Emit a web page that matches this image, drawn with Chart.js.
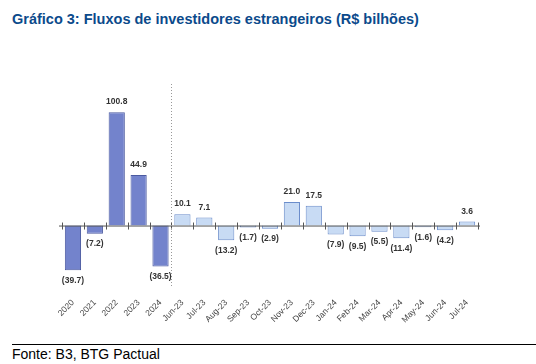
<!DOCTYPE html>
<html>
<head>
<meta charset="utf-8">
<script src="https://cdn.jsdelivr.net/npm/chart.js@4"></script>
<style>
  body { margin: 0; background: #fff; width: 536px; height: 364px; position: relative; overflow: hidden; font-family: "Liberation Sans", Arial, sans-serif; }
  #title { position: absolute; left: 12px; top: 11px; font-size: 14.5px; font-weight: bold; color: #0b4a8b; }
  #chart-box { position: absolute; left: 0; top: 70px; width: 536px; height: 271px; }
  #rule { position: absolute; left: 12px; right: 0; top: 344px; border-top: 1px solid #000; }
  #source { position: absolute; left: 12px; top: 346px; font-size: 14px; color: #000; }
</style>
</head>
<body>
<div id="title">Gráfico 3: Fluxos de investidores estrangeiros (R$ bilhões)</div>
<div id="chart-box"><canvas id="flowChart"></canvas></div>
<div id="rule"></div>
<div id="source">Fonte: B3, BTG Pactual</div>
<script>
const categories = ["2020", "2021", "2022", "2023", "2024", "Jun-23", "Jul-23", "Aug-23", "Sep-23", "Oct-23", "Nov-23", "Dec-23", "Jan-24", "Feb-24", "Mar-24", "Apr-24", "May-24", "Jun-24", "Jul-24"];
const flows = [-39.7, -7.2, 100.8, 44.9, -36.5, 10.1, 7.1, -13.2, -1.7, -2.9, 21.0, 17.5, -7.9, -9.5, -5.5, -11.4, -1.6, -4.2, 3.6];
const yearCount = 5;

const fillColors = flows.map((v, i) => (i < yearCount ? "#7383cc" : "#c8dbf4"));
const borderColors = flows.map((v, i) => (i < yearCount ? "#4b5aa0" : "#6b8dcb"));

function fmt(v) {
  return v < 0 ? "(" + Math.abs(v).toFixed(1) + ")" : v.toFixed(1);
}

// zero line, tick marks, value labels and the dotted separator
const extras = {
  id: "extras",
  afterDatasetsDraw(chart) {
    const ctx = chart.ctx;
    const x = chart.scales.x;
    const y = chart.scales.y;
    const y0 = y.getPixelForValue(0);
    const step = x.getPixelForValue(1) - x.getPixelForValue(0);
    const left = x.getPixelForValue(0) - step / 2;
    const right = x.getPixelForValue(categories.length - 1) + step / 2;

    ctx.save();
    ctx.strokeStyle = "#555";
    ctx.lineWidth = 1;
    ctx.beginPath();
    ctx.moveTo(left - 3, y0 + 0.5);
    ctx.lineTo(right + 2, y0 + 0.5);
    for (let i = 0; i <= categories.length; i++) {
      const px = Math.round(left + i * step) + 0.5;
      ctx.moveTo(px, y0 - 3);
      ctx.lineTo(px, y0 + 4);
    }
    ctx.stroke();

    // dotted separator between years and months
    const sepX = Math.round(left + yearCount * step) + 0.5;
    ctx.strokeStyle = "#999";
    ctx.setLineDash([1, 2]);
    ctx.beginPath();
    ctx.moveTo(sepX, chart.chartArea.top - 1);
    ctx.lineTo(sepX, chart.chartArea.bottom + 6);
    ctx.stroke();
    ctx.setLineDash([]);

    ctx.fillStyle = "#333";
    ctx.font = "bold 8.5px 'Liberation Sans', Arial, sans-serif";
    ctx.textAlign = "center";
    const meta = chart.getDatasetMeta(0);
    meta.data.forEach((bar, i) => {
      const v = flows[i];
      if (v >= 0) {
        ctx.textBaseline = "bottom";
        ctx.fillText(fmt(v), bar.x, bar.y - 6);
      } else {
        ctx.textBaseline = "top";
        ctx.fillText(fmt(v), bar.x, bar.y + 6);
      }
    });
    ctx.restore();
  },
};

new Chart(document.getElementById("flowChart"), {
  type: "bar",
  data: {
    labels: categories,
    datasets: [
      {
        data: flows,
        backgroundColor: fillColors,
        borderColor: borderColors,
        borderWidth: 1,
        categoryPercentage: 0.74,
        barPercentage: 1,
      },
    ],
  },
  options: {
    responsive: true,
    maintainAspectRatio: false,
    animation: false,
    layout: { padding: { left: 62, right: 58, top: 15, bottom: 0 } },
    plugins: { legend: { display: false }, tooltip: { enabled: false } },
    scales: {
      x: {
        grid: { display: false, drawTicks: false },
        border: { display: false },
        ticks: {
          minRotation: 45,
          maxRotation: 45,
          padding: 16,
          color: "#444",
          font: { family: "'Liberation Sans', Arial, sans-serif", size: 8.5 },
        },
      },
      y: {
        display: false,
        min: -50,
        max: 125,
      },
    },
  },
  plugins: [extras],
});
</script>
</body>
</html>
